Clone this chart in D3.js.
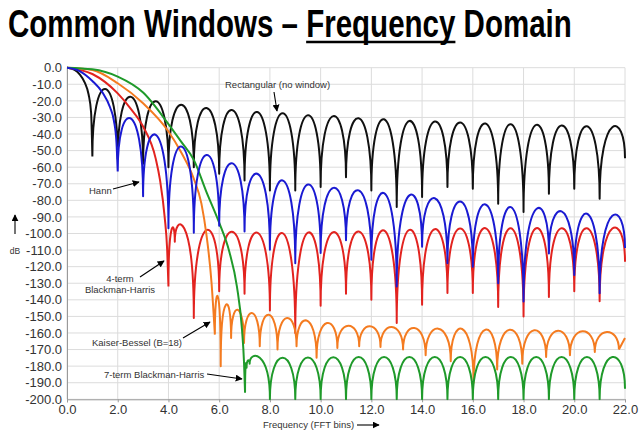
<!DOCTYPE html>
<html>
<head>
<meta charset="utf-8">
<style>
  body { margin: 0; background: #fff; }
  svg { display: block; font-family: 'Liberation Sans', Arial, sans-serif; }
  .note { font-size: 9.5px; fill: #333; }
  .tick-label { font-size: 13px; fill: #333; }
</style>
</head>
<body>
<svg width="644" height="436"></svg>

<script src="https://d3js.org/d3.v7.min.js"></script>
<script>
  // axis ticks
  let xTickValues = [0, 2, 4, 6, 8, 10, 12, 14, 16, 18, 20, 22]
  let yTickValues = [0, -10, -20, -30, -40, -50, -60, -70, -80, -90, -100, -110, -120,
    -130, -140, -150, -160, -170, -180, -190, -200]

  // each window: main lobe samples [bin, dB], then null positions, null depths
  // and the peak level of every side lobe sitting between two nulls
  let rectMain = [[0, 0], [0.3, -1.3], [0.5, -4], [0.7, -9], [0.85, -16], [0.95, -27], [1, -53.6]]
  let rectNulls = [1, 2, 3, 4, 5, 6, 7, 8, 9, 10, 11, 12, 13, 14, 15, 16, 17, 18, 19, 20, 21, 22]
  let rectNullDb = [-53.6, -55, -58, -60, -60, -64, -68, -74, -74, -72, -66, -74, -84, -78, -72, -73,
    -82, -87, -76, -73, -79, -54.6]
  let rectPeakDb = [-12.8, -17.5, -20.3, -22.3, -24.3, -25.5, -26.7, -27.5, -28.7, -29.2, -30.5,
    -31.1, -32.1, -32.5, -33.1, -33.7, -34.1, -34.5, -34.9, -35.3, -35.9]

  let hannMain = [[0, 0], [0.5, -2], [1, -8], [1.4, -15], [1.7, -24], [1.85, -32], [1.95, -45], [2, -62.6]]
  let hannNulls = [2, 3, 4, 5, 6, 7, 8, 9, 10, 11, 12, 13, 14, 15, 16, 17, 18, 19, 20, 21, 22]
  let hannNullDb = [-62.6, -77.5, -96.8, -99.6, -95.4, -98.8, -109.8, -118, -111.8, -104, -115.8,
    -131.9, -108, -118, -120, -130, -141, -112, -125, -136, -108.8]
  let hannPeakDb = [-30.5, -40.5, -47.5, -52.6, -57.6, -64, -68, -70.5, -72.5, -74, -75.7, -77,
    -78.7, -80.7, -82.5, -84.1, -85.3, -86.7, -88.1, -89.3]

  let bh4Main = [[0, 0], [1, -3.8], [2, -15.5], [2.5, -24.5], [3, -35.5], [3.5, -55], [3.67, -68],
    [3.85, -90], [3.95, -110], [4, -132]]
  let bh4Nulls = [4, 4.25, 5, 6, 7, 8, 9, 10, 11, 12, 13, 14, 15, 16, 17, 18, 19, 20, 21, 22]
  let bh4NullDb = [-132, -105, -151, -134.9, -136.3, -146.4, -160, -143.6, -136.3, -139.9, -154,
    -143, -135.9, -135.9, -144.4, -150, -138.3, -134.9, -140.9, -117]
  let bh4PeakDb = [-97.5, -97, -98, -99, -99.5, -99.8, -99.5, -99.2, -98.8, -98.2, -97.8, -97.4,
    -97, -96.8, -96.8, -96.8, -96.8, -96.8, -97]

  let kaiserMain = [[0, 0], [1, -1.4], [2, -9.4], [3, -21.5], [4, -38.5], [4.5, -51], [5, -67],
    [5.3, -82], [5.5, -101], [5.7, -130], [5.83, -161]]
  let kaiserNulls = [5.83, 6.06, 6.47, 6.98, 7.6, 8.3, 9.05, 9.84, 10.66, 11.52, 12.36, 13.25,
    14.14, 15.13, 16.03, 16.96, 17.95, 18.89, 19.83, 20.81, 21.76]
  let kaiserNullDb = [-161, -180, -163, -166, -168, -170, -168, -175, -169, -168, -168.5, -170,
    -173.5, -177, -190, -182, -178.5, -174.5, -173.5, -171.5, -170]
  let kaiserPeakDb = [-138, -143, -146, -148, -149, -151, -152.5, -154, -155.6, -156, -156.4, -157,
    -157.4, -157.6, -158, -158, -158.4, -158.6, -159, -159.4]
  let kaiserTail = [[21.76, -170], [22, -163]]

  let bh7Main = [[0, 0], [1, -1], [2, -5.4], [3, -15], [4, -34], [4.5, -44.6], [5, -55.6], [5.5, -75],
    [6, -93.5], [6.4, -111], [6.7, -132], [6.9, -158], [6.98, -178], [7.02, -196]]
  let bh7Nulls = [7.02, 7.08, 7.2, 8, 9, 10, 11, 12, 13, 14, 15, 16, 17, 18, 19, 20, 21, 22]
  let bh7NullDb = [-196, -181, -178.5, -200, -200, -200, -200, -200, -200, -200, -200, -200, -200,
    -200, -200, -200, -200, -193.7]
  let bh7PeakDb = [-179, -176.5, -175, -175, -174.8, -174.6, -174.5, -174.5, -174.5, -174.5, -174.5,
    -174.5, -174.5, -174.5, -174.5, -174.5, -174.5]

  let series = [
    { color: "#111111", main: rectMain, nulls: rectNulls, nullDb: rectNullDb, peakDb: rectPeakDb, tail: [] },
    { color: "#e2231f", main: bh4Main, nulls: bh4Nulls, nullDb: bh4NullDb, peakDb: bh4PeakDb, tail: [] },
    { color: "#f47b20", main: kaiserMain, nulls: kaiserNulls, nullDb: kaiserNullDb, peakDb: kaiserPeakDb, tail: kaiserTail },
    { color: "#1f9a2a", main: bh7Main, nulls: bh7Nulls, nullDb: bh7NullDb, peakDb: bh7PeakDb, tail: [] },
    { color: "#1a1ad2", main: hannMain, nulls: hannNulls, nullDb: hannNullDb, peakDb: hannPeakDb, tail: [] }
  ]

  let svg = d3.select("svg")

  let x = d3.scaleLinear().domain([0, 22]).range([67, 625])
  let y = d3.scaleLinear().domain([-200, 0]).range([399.3, 67.7])

  // title: tall bold type squeezed sideways to the original width, "Frequency" underlined
  let title = svg.append("text")
    .style("font-family", "'Liberation Sans Narrow','Arial Narrow','Liberation Sans',Arial,sans-serif")
    .style("font-weight", "bold")
    .style("font-size", "38px")
    .style("fill", "#000")
    .text("Common Windows \u2013 Frequency Domain")

  let sx = 564 / title.node().getComputedTextLength()
  title.attr("transform", "translate(8,37) scale(" + sx + ",1)")

  let uStart = 8 + sx * title.node().getStartPositionOfChar(17).x
  let uEnd = 8 + sx * title.node().getEndPositionOfChar(25).x
  svg.append("line")
    .attr("x1", uStart).attr("x2", uEnd)
    .attr("y1", 42).attr("y2", 42)
    .style("stroke", "#000")
    .style("stroke-width", 2.5)

  // grid
  svg.append("g")
    .selectAll("line")
    .data(yTickValues)
    .join("line")
    .attr("x1", x(0)).attr("x2", x(22))
    .attr("y1", d => y(d)).attr("y2", d => y(d))
    .style("stroke", "#dcdcdc")
    .style("stroke-width", 1)

  svg.append("g")
    .selectAll("line")
    .data(xTickValues)
    .join("line")
    .attr("x1", d => x(d)).attr("x2", d => x(d))
    .attr("y1", y(0)).attr("y2", y(-200))
    .style("stroke", "#dcdcdc")
    .style("stroke-width", 1)

  // axes
  let yAxis = svg.append("g")
    .attr("transform", "translate(" + x(0) + ",0)")
    .call(d3.axisLeft(y).tickValues(yTickValues).tickFormat(d => d.toFixed(1)).tickSize(0).tickPadding(5))
  let xAxis = svg.append("g")
    .attr("transform", "translate(0," + y(-200) + ")")
    .call(d3.axisBottom(x).tickValues(xTickValues).tickFormat(d => d.toFixed(1)).tickSize(3).tickPadding(2))

  ;[yAxis, xAxis].forEach(a => {
    a.select(".domain").style("stroke", "#9a9a9a")
    a.selectAll(".tick line").style("stroke", "#9a9a9a")
    a.selectAll(".tick text")
      .attr("class", "tick-label")
      .style("font-family", "'Liberation Sans', Arial, sans-serif")
  })

  // curves
  svg.append("clipPath").attr("id", "plot-clip")
    .append("rect")
    .attr("x", x(0)).attr("y", y(0) - 3)
    .attr("width", x(22) - x(0) + 2).attr("height", y(-200) - y(0) + 4)

  let mainLine = d3.line()
    .x(d => x(d[0]))
    .y(d => y(d[1]))
    .curve(d3.curveMonotoneX)

  // one arch per side lobe, vertical at both nulls, top at the read peak level
  function lobes(s) {
    let p = d3.path()
    for (let i = 0; i < s.peakDb.length; i++) {
      let x0 = x(s.nulls[i]), x1 = x(s.nulls[i + 1])
      let n0 = y(s.nullDb[i]), n1 = y(s.nullDb[i + 1])
      let c = (y(s.peakDb[i]) - (n0 + n1) / 8) / 0.75
      if (i === 0) p.moveTo(x0, n0)
      p.bezierCurveTo(x0, c, x1, c, x1, n1)
    }
    return p.toString()
  }

  let curves = svg.append("g").attr("clip-path", "url(#plot-clip)")

  curves.selectAll(".window")
    .data(series)
    .join("path")
    .attr("class", "window")
    .attr("d", s => mainLine(s.main) + lobes(s) + (s.tail.length ? mainLine(s.tail) : ""))
    .style("fill", "none")
    .style("stroke", s => s.color)
    .style("stroke-width", 2)
    .style("stroke-linejoin", "round")

  // annotations
  svg.append("defs").append("marker")
    .attr("id", "head")
    .attr("viewBox", "0 0 10 10")
    .attr("refX", 9).attr("refY", 5)
    .attr("markerWidth", 7).attr("markerHeight", 7)
    .attr("markerUnits", "userSpaceOnUse")
    .attr("orient", "auto")
    .append("path")
    .attr("d", "M0,0L10,5L0,10z")
    .style("fill", "#000")

  let notes = [
    ["Rectangular (no window)", 225, 87.5, "start"],
    ["Hann", 89, 194, "start"],
    ["4-term", 120, 282, "middle"],
    ["Blackman-Harris", 120, 292.5, "middle"],
    ["Kaiser-Bessel (B=18)", 92, 345.5, "start"],
    ["7-term Blackman-Harris", 104, 377.5, "start"]
  ]
  svg.append("g")
    .selectAll("text")
    .data(notes)
    .join("text")
    .attr("class", "note")
    .attr("x", d => d[1])
    .attr("y", d => d[2])
    .attr("text-anchor", d => d[3])
    .text(d => d[0])

  let arrows = [
    [274, 92, 277, 111],
    [113, 189, 139, 182],
    [140, 277, 164, 261],
    [183, 338, 210, 322],
    [207, 374, 242, 379],
    [15, 234, 15, 215],
    [357, 425, 379, 425]
  ]
  svg.append("g")
    .selectAll("line")
    .data(arrows)
    .join("line")
    .attr("x1", d => d[0]).attr("y1", d => d[1])
    .attr("x2", d => d[2]).attr("y2", d => d[3])
    .style("stroke", "#000")
    .style("stroke-width", 1.1)
    .attr("marker-end", "url(#head)")

  svg.append("text")
    .attr("class", "note")
    .attr("x", 15).attr("y", 254)
    .attr("text-anchor", "middle")
    .style("font-size", "8.5px")
    .text("dB")

  svg.append("text")
    .attr("class", "note")
    .attr("x", 263).attr("y", 428)
    .text("Frequency (FFT bins)")
</script>
</body>
</html>
